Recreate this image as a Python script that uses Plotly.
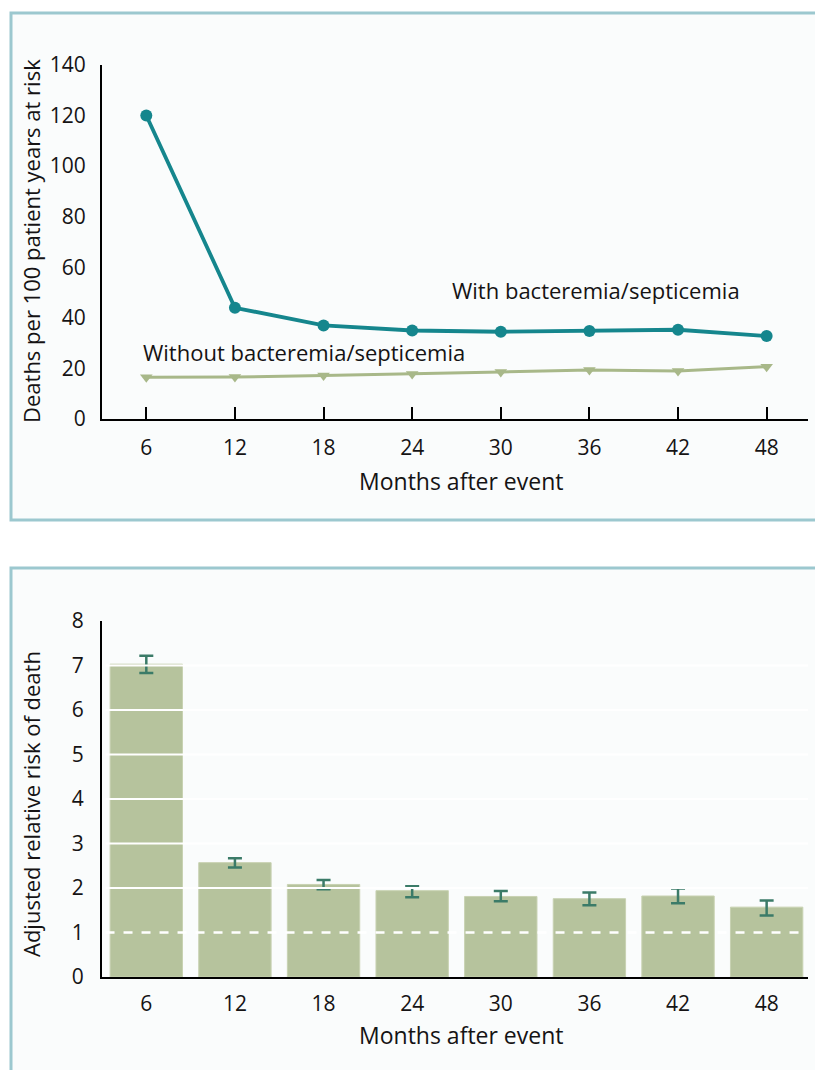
import plotly.graph_objects as go

# ---- data ----
months = [6, 12, 18, 24, 30, 36, 42, 48]
with_bact = [120, 44, 37, 35, 34.5, 34.8, 35.3, 32.8]
without_bact = [16.5, 16.6, 17.2, 17.8, 18.6, 19.4, 19.0, 20.7]
y1_ticks = [0, 20, 40, 60, 80, 100, 120, 140]

rel_risk = [7.03, 2.57, 2.08, 1.94, 1.81, 1.76, 1.82, 1.57]
ci_upper = [7.22, 2.67, 2.18, 2.04, 1.93, 1.90, 1.99, 1.72]
ci_lower = [6.83, 2.46, 1.97, 1.79, 1.70, 1.61, 1.66, 1.38]
y2_ticks = [0, 1, 2, 3, 4, 5, 6, 7, 8]
grid_vals = [2, 3, 4, 5, 6, 7]
ref_val = 1

label_with = "With bacteremia/septicemia"
label_without = "Without bacteremia/septicemia"
x_title = "Months after event"
y1_title = "Deaths per 100 patient years at risk"
y2_title = "Adjusted relative risk of death"

# ---- style ----
W, H = 823, 1070
OFF = 8  # page body margin
FONT = "Open Sans"
TXT = "#151314"
TEAL = "#15868d"
OLIVE = "#a8b889"
BAR = "#b6c39d"
ERR = "#3b7b68"
FRAME = "#9cc8cf"
PANEL = "#fafcfc"


def px_x(p):
    return (p - OFF) / W


def px_y(p):
    return 1 - (p - OFF) / H


xdom = [px_x(102), px_x(808)]

fig = go.Figure()

fig.add_trace(go.Scatter(
    x=months, y=without_bact, mode="lines+markers",
    line=dict(color=OLIVE, width=3),
    marker=dict(symbol="triangle-down", size=11, color=OLIVE),
    xaxis="x", yaxis="y", showlegend=False, hoverinfo="x+y"))
fig.add_trace(go.Scatter(
    x=months, y=with_bact, mode="lines+markers",
    line=dict(color=TEAL, width=3.8),
    marker=dict(symbol="circle", size=12, color=TEAL),
    xaxis="x", yaxis="y", showlegend=False, hoverinfo="x+y"))

err_plus = [u - v for u, v in zip(ci_upper, rel_risk)]
err_minus = [v - l for v, l in zip(rel_risk, ci_lower)]
fig.add_trace(go.Bar(
    x=months, y=rel_risk, width=4.9,
    marker=dict(color=BAR, line=dict(color="#c8d2b2", width=1)),
    error_y=dict(type="data", array=err_plus, arrayminus=err_minus,
                 color=ERR, thickness=2.5, width=7),
    xaxis="x2", yaxis="y2", showlegend=False))

tickfont = dict(family=FONT, size=21, color=TXT)
common = dict(automargin=False, fixedrange=True, showgrid=False,
              zeroline=False, tickfont=tickfont, showline=True,
              linecolor="black", linewidth=2)

fig.update_layout(
    width=W, height=H, autosize=False,
    margin=dict(l=0, r=0, t=0, b=0, pad=0, autoexpand=False),
    paper_bgcolor="white",
    plot_bgcolor="rgba(0,0,0,0)",
    font=dict(family=FONT, color=TXT),
    xaxis=dict(domain=xdom, anchor="y", range=[3, 50.8], tickvals=months,
               ticks="inside", ticklen=12, tickwidth=2, tickcolor="black",
               ticklabelstandoff=9, **common),
    yaxis=dict(domain=[px_y(419), px_y(65)], anchor="x", range=[0, 140],
               tickvals=y1_ticks, ticks="", ticklabelstandoff=10, **common),
    xaxis2=dict(domain=xdom, anchor="y2", range=[3, 50.8], tickvals=months,
                ticks="", ticklabelstandoff=7, **common),
    yaxis2=dict(domain=[px_y(977), px_y(621)], anchor="x2", range=[0, 8],
                tickvals=y2_ticks, ticks="", ticklabelstandoff=12, **common),
)

shapes = [
    dict(type="rect", xref="paper", yref="paper",
         x0=px_x(11), x1=px_x(840), y0=px_y(520), y1=px_y(13),
         line=dict(color=FRAME, width=3), fillcolor=PANEL, layer="below"),
    dict(type="rect", xref="paper", yref="paper",
         x0=px_x(11), x1=px_x(840), y0=px_y(1090), y1=px_y(568),
         line=dict(color=FRAME, width=3), fillcolor=PANEL, layer="below"),
]
for g in grid_vals:
    shapes.append(dict(type="line", xref="x2 domain", yref="y2",
                       x0=0.005, x1=1, y0=g, y1=g,
                       line=dict(color="white", width=2.2), layer="above"))
shapes.append(dict(type="line", xref="x2 domain", yref="y2",
                   x0=0.005, x1=1, y0=ref_val, y1=ref_val,
                   line=dict(color="white", width=2.5, dash="dash"),
                   layer="above"))
fig.update_layout(shapes=shapes)

ann_font = dict(family=FONT, size=22, color=TXT)
title_font = dict(family=FONT, size=23, color=TXT)
annotations = [
    dict(text=label_with, xref="paper", yref="paper",
         x=px_x(450), y=px_y(290), xanchor="left", yanchor="middle",
         showarrow=False, font=ann_font),
    dict(text=label_without, xref="paper", yref="paper",
         x=px_x(141), y=px_y(352), xanchor="left", yanchor="middle",
         showarrow=False, font=ann_font),
    dict(text=x_title, xref="paper", yref="paper",
         x=px_x(461), y=px_y(481), xanchor="center", yanchor="middle",
         showarrow=False, font=title_font),
    dict(text=x_title, xref="paper", yref="paper",
         x=px_x(461), y=px_y(1035), xanchor="center", yanchor="middle",
         showarrow=False, font=title_font),
    dict(text=y1_title, xref="paper", yref="paper", textangle=-90,
         x=px_x(31), y=px_y(241), xanchor="center", yanchor="middle",
         showarrow=False, font=ann_font),
    dict(text=y2_title, xref="paper", yref="paper", textangle=-90,
         x=px_x(31), y=px_y(804), xanchor="center", yanchor="middle",
         showarrow=False, font=ann_font),
]
fig.update_layout(annotations=annotations)

fig.write_html("out.html")
